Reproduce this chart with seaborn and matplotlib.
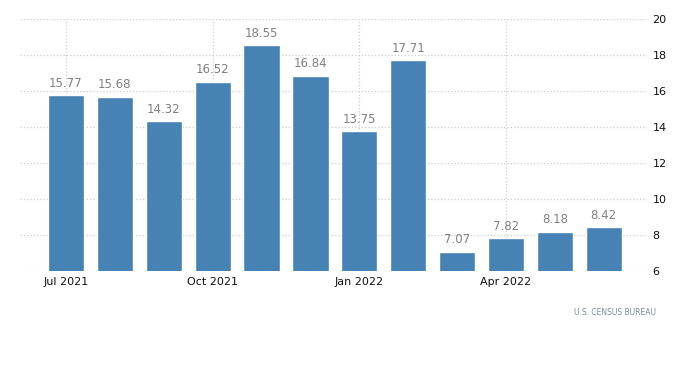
import matplotlib
matplotlib.use("Agg")
import matplotlib.pyplot as plt
import pandas as pd
import seaborn as sns

months = ["Jul 2021", "Aug 2021", "Sep 2021", "Oct 2021", "Nov 2021", "Dec 2021",
          "Jan 2022", "Feb 2022", "Mar 2022", "Apr 2022", "May 2022", "Jun 2022"]
values = [15.77, 15.68, 14.32, 16.52, 18.55, 16.84, 13.75, 17.71, 7.07, 7.82, 8.18, 8.42]
tick_idx = [0, 3, 6, 9]
y_ticks = [6, 8, 10, 12, 14, 16, 18, 20]

df = pd.DataFrame({"month": months, "value": values})

sns.set_style("white")
plt.rcParams["font.family"] = ["DejaVu Sans"]

fig = plt.figure(figsize=(7, 3.65), dpi=100)
ax = fig.add_axes([0.0286, 0.2575, 0.8954, 0.6905])

sns.barplot(data=df, x="month", y="value", color="#4682b4", saturation=1,
            width=0.74, ax=ax, zorder=3)
ax.bar_label(ax.containers[0], labels=[f"{v:.2f}" for v in values],
             padding=4, fontsize=8.5, color="#808080")

ax.set_xlim(-0.94, 11.88)
ax.set_ylim(6, 20)
ax.set_xticks(tick_idx)
ax.set_xticklabels([months[i] for i in tick_idx], fontsize=8, color="#111111")
ax.yaxis.tick_right()
ax.set_yticks(y_ticks)
ax.set_yticklabels([str(t) for t in y_ticks], fontsize=8, color="#111111")
ax.tick_params(axis="both", length=0, pad=4)
ax.grid(True, color="#cccccc", linestyle=":", linewidth=0.9, zorder=0)
ax.set_xlabel("")
ax.set_ylabel("")
for s in ax.spines.values():
    s.set_visible(False)

fig.text(0.937, 0.145, "U.S. CENSUS BUREAU", ha="right", va="center",
         fontsize=5.5, color="#7a8ca0")

fig.savefig("out.png", dpi=100)
plt.close(fig)
